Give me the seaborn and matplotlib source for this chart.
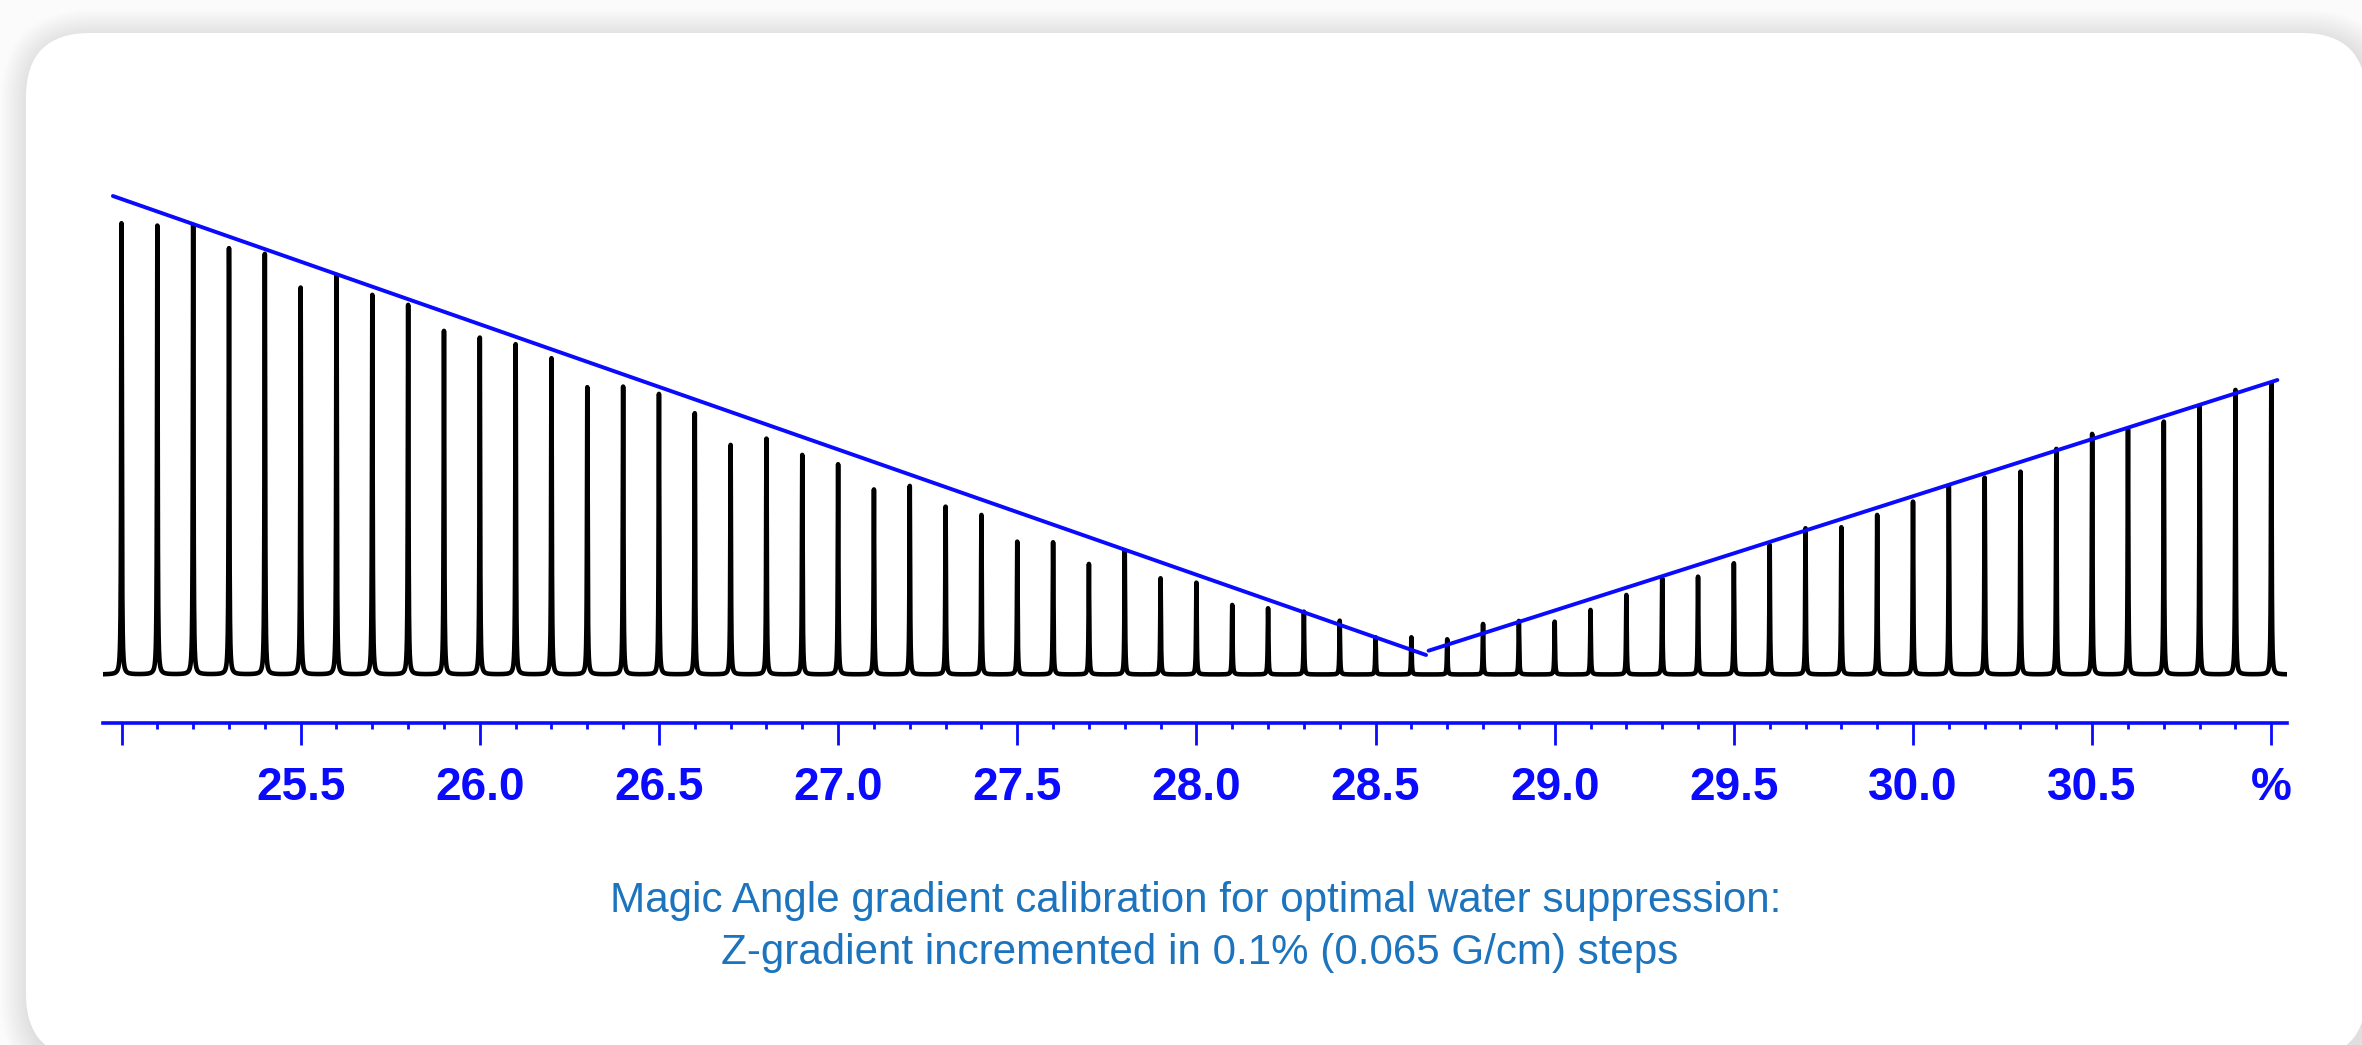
import numpy as np
import pandas as pd
import matplotlib
matplotlib.use("Agg")
import matplotlib.pyplot as plt
import seaborn as sns
from matplotlib.patches import FancyBboxPatch

# Z-gradient strength (% of maximum), stepped by 0.1 %
gradient_pct = np.round(np.arange(250, 311) / 10.0, 1)

# Residual water signal height for each gradient setting (a.u.)
peak_height = np.array([
    451.2, 448.8, 449.5, 426.2, 420.5, 386.8, 399.5, 379.5, 369.5, 343.5,
    336.8, 330.2, 316.2, 287.2, 287.8, 280.5, 261.2, 229.5, 235.8, 219.5,
    210.2, 185.0, 188.5, 167.8, 159.5, 132.8, 132.2, 110.5, 123.5, 96.2,
    91.8, 69.5, 66.2, 62.8, 53.8, 37.2, 37.2, 35.2, 50.5, 53.5,
    52.8, 64.5, 79.5, 96.2, 97.8, 111.2, 129.5, 146.2, 147.2, 159.5,
    172.8, 188.8, 196.8, 202.8, 225.5, 240.5, 245.2, 252.8, 268.5, 284.5,
    291.2,
])

# Linear envelopes on either side of the minimum
env_left_x = [24.976, 28.641]
env_left_y = [478.5, 19.5]
env_right_x = [28.648, 31.017]
env_right_y = [23.8, 294.5]

major_ticks = [25.0, 25.5, 26.0, 26.5, 27.0, 27.5, 28.0, 28.5, 29.0, 29.5, 30.0, 30.5, 31.0]
tick_labels = ["", "25.5", "26.0", "26.5", "27.0", "27.5", "28.0", "28.5",
               "29.0", "29.5", "30.0", "30.5", "%"]

caption_lines = [
    "Magic Angle gradient calibration for optimal water suppression:",
    "Z-gradient incremented in 0.1% (0.065 G/cm) steps",
]

sns.set_style("white")
plt.rcParams["font.family"] = ["Liberation Sans", "DejaVu Sans"]

W, H = 2362, 1045
fig = plt.figure(figsize=(W / 100, H / 100), dpi=100, facecolor="#fbfbfb")

# Background layer in pixel units: soft shadow and rounded white card
bg = fig.add_axes([0, 0, 1, 1], zorder=0)
bg.set_xlim(0, W)
bg.set_ylim(H, 0)
bg.axis("off")
cx, cy, cw, ch, cr = 26, 33, 2340, 1025, 64
for i in range(14, 0, -1):
    g = i * 2
    bg.add_patch(FancyBboxPatch((cx - g + 3, cy - g + 5), cw + 2 * g, ch + 2 * g,
                                boxstyle=f"round,pad=0,rounding_size={cr + g}",
                                fc="black", ec="none", alpha=0.007))
bg.add_patch(FancyBboxPatch((cx, cy), cw, ch, boxstyle=f"round,pad=0,rounding_size={cr}",
                            fc="white", ec="none"))

# Spectrum axes
x0_px, x1_px = 103, 2287
top_px, axis_px, base_px = 150, 723, 674.5
px_per_unit, tick0_px = 358.3, 121.5
xlim = (25.0 - (tick0_px - x0_px) / px_per_unit, 25.0 + (x1_px - tick0_px) / px_per_unit)
ylim = (-(axis_px - base_px), base_px - top_px)

ax = fig.add_axes([x0_px / W, (H - axis_px) / H, (x1_px - x0_px) / W, (axis_px - top_px) / H],
                  zorder=2)
ax.patch.set_alpha(0)

# Sum of narrow Lorentzian lines, one per gradient step
hwhm = 0.0011
grid = np.union1d(np.linspace(xlim[0], xlim[1], 30000), gradient_pct)
spec = (peak_height[:, None] * hwhm ** 2 /
        ((grid[None, :] - gradient_pct[:, None]) ** 2 + hwhm ** 2)).sum(axis=0)
spec_df = pd.DataFrame({"gradient": grid, "intensity": spec})
sns.lineplot(data=spec_df, x="gradient", y="intensity", ax=ax, color="black",
             lw=3.3, estimator=None, sort=False)

env_df = pd.DataFrame({
    "gradient": env_left_x + env_right_x,
    "intensity": env_left_y + env_right_y,
    "side": ["left", "left", "right", "right"],
})
sns.lineplot(data=env_df, x="gradient", y="intensity", units="side", estimator=None,
             color="#0a0aff", lw=2.8, ax=ax)

ax.set_xlim(*xlim)
ax.set_ylim(*ylim)
ax.set_xlabel("")
ax.set_ylabel("")
ax.set_yticks([])
for s in ["top", "left", "right"]:
    ax.spines[s].set_visible(False)
ax.spines["bottom"].set_color("#0a0aff")
ax.spines["bottom"].set_linewidth(2.6)

minor_ticks = [t for t in gradient_pct if t not in major_ticks]
ax.set_xticks(major_ticks)
ax.set_xticklabels(tick_labels)
ax.set_xticks(minor_ticks, minor=True)
ax.tick_params(axis="x", which="major", bottom=True, direction="out", length=16,
               width=2.0, color="#0a0aff", pad=15, labelsize=33, labelcolor="#0a0aff")
ax.tick_params(axis="x", which="minor", bottom=True, direction="out", length=4.6,
               width=2.0, color="#0a0aff")
for lbl in ax.get_xticklabels():
    lbl.set_fontweight("bold")

# Caption below the spectrum
bg.text(1196, 912, caption_lines[0], ha="center", va="baseline", fontsize=30.3,
        color="#1c74bf", zorder=3)
bg.text(1200, 964, caption_lines[1], ha="center", va="baseline", fontsize=30.3,
        color="#1c74bf", zorder=3)

fig.savefig("out.png", dpi=100, facecolor=fig.get_facecolor())
